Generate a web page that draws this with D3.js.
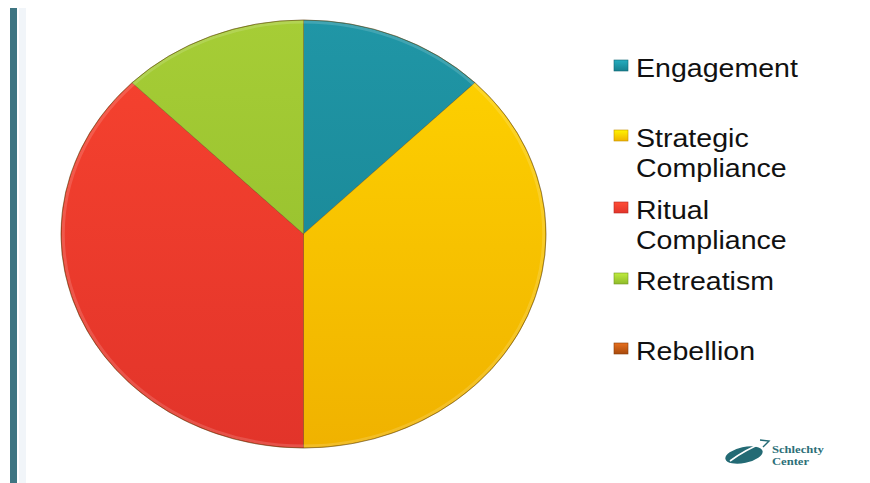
<!DOCTYPE html>
<html>
<head>
<meta charset="utf-8">
<script src="https://cdn.jsdelivr.net/npm/d3@7"></script>
<style>
  html, body { margin: 0; padding: 0; background: #ffffff; }
  svg { display: block; }
</style>
</head>
<body>
<svg id="chart" width="870" height="483"></svg>
<script>
// Share of students by mode of response (percent)
const categories = ["Engagement", "Strategic Compliance", "Ritual Compliance", "Retreatism", "Rebellion"];
const legendLines = [["Engagement"], ["Strategic", "Compliance"], ["Ritual", "Compliance"], ["Retreatism"], ["Rebellion"]];
const values = [12.5, 37.5, 37.5, 12.5, 0];
const colorsTop = ["#2096a6", "#ffd400", "#f7432f", "#a6cd36", "#c8601a"];
const colorsBottom = ["#16808f", "#f0b200", "#e2342a", "#8fbb2a", "#a84a0c"];

const svg = d3.select("#chart");
const defs = svg.append("defs");

// left accent bar
svg.append("rect").attr("x", 10).attr("y", 8).attr("width", 7).attr("height", 475).attr("fill", "#3e7582");
svg.append("rect").attr("x", 19).attr("y", 8).attr("width", 7).attr("height", 475).attr("fill", "#f1f5f9");

// pie: drawn as a circle and stretched into an ellipse
const cx = 303.5, cy = 234, rx = 242.5, ry = 214;
const R = ry;
const pie = d3.pie().sort(null).value(d => d)(values);
const arc = d3.arc().innerRadius(0).outerRadius(R);

categories.forEach((c, i) => {
  const g = defs.append("linearGradient")
    .attr("id", "grad" + i)
    .attr("gradientUnits", "userSpaceOnUse")
    .attr("x1", 0).attr("y1", -R).attr("x2", 0).attr("y2", R);
  g.append("stop").attr("offset", "0%").attr("stop-color", colorsTop[i]);
  g.append("stop").attr("offset", "100%").attr("stop-color", colorsBottom[i]);
});

const pieG = svg.append("g")
  .attr("transform", `translate(${cx},${cy}) scale(${rx / R},1)`);

pieG.selectAll("path.slice")
  .data(pie.filter(d => d.value > 0))
  .join("path")
  .attr("class", "slice")
  .attr("d", arc)
  .attr("fill", d => "url(#grad" + d.index + ")")
  .attr("stroke", "rgba(90,60,0,0.35)")
  .attr("stroke-width", 1)
  .attr("vector-effect", "non-scaling-stroke");

// soft bevel highlight along the rim
pieG.append("circle")
  .attr("r", R - 2)
  .attr("fill", "none")
  .attr("stroke", "rgba(255,255,255,0.15)")
  .attr("stroke-width", 3)
  .attr("vector-effect", "non-scaling-stroke");
pieG.append("circle")
  .attr("r", R)
  .attr("fill", "none")
  .attr("stroke", "rgba(80,50,0,0.35)")
  .attr("stroke-width", 1)
  .attr("vector-effect", "non-scaling-stroke");

// legend
const stretch = 1.12;
const legendY = [77, 147, 219, 290, 360];
const legend = svg.append("g");
categories.forEach((c, i) => {
  const y = legendY[i];
  const mg = defs.append("linearGradient").attr("id", "mk" + i)
    .attr("x1", 0).attr("y1", 0).attr("x2", 0).attr("y2", 1);
  mg.append("stop").attr("offset", "0%").attr("stop-color", d3.color(colorsTop[i]).brighter(0.4));
  mg.append("stop").attr("offset", "100%").attr("stop-color", colorsBottom[i]);
  legend.append("rect")
    .attr("x", 614).attr("y", y - 17)
    .attr("width", 14).attr("height", 11)
    .attr("fill", "url(#mk" + i + ")")
    .attr("stroke", d3.color(colorsBottom[i]).darker(0.6))
    .attr("stroke-width", 0.6);
  const t = legend.append("text")
    .attr("transform", `translate(636,${y}) scale(${stretch},1)`)
    .attr("font-family", "'Liberation Sans', Arial, sans-serif")
    .attr("font-size", 25.5)
    .attr("fill", "#111");
  legendLines[i].forEach((line, j) => {
    t.append("tspan").attr("x", 0).attr("dy", j === 0 ? 0 : 30.5).text(line);
  });
});

// logo
const logo = svg.append("g");
logo.append("ellipse")
  .attr("cx", 744).attr("cy", 455).attr("rx", 19).attr("ry", 8)
  .attr("transform", "rotate(-12,744,455)")
  .attr("fill", "#236a74");
logo.append("path")
  .attr("d", "M730,461 Q748,448 768,441")
  .attr("fill", "none").attr("stroke", "#ffffff").attr("stroke-width", 1.6);
logo.append("path")
  .attr("d", "M760,440 L769,441 L763,447")
  .attr("fill", "none").attr("stroke", "#236a74").attr("stroke-width", 1.4);
logo.append("text")
  .attr("transform", "translate(772,453) scale(1.2,1)")
  .attr("font-family", "'Liberation Serif', serif").attr("font-weight", "bold")
  .attr("font-size", 10.5).attr("fill", "#2d6f78").text("Schlechty");
logo.append("text")
  .attr("transform", "translate(772,465) scale(1.2,1)")
  .attr("font-family", "'Liberation Serif', serif").attr("font-weight", "bold")
  .attr("font-size", 10.5).attr("fill", "#2d6f78").text("Center");
</script>
</body>
</html>
